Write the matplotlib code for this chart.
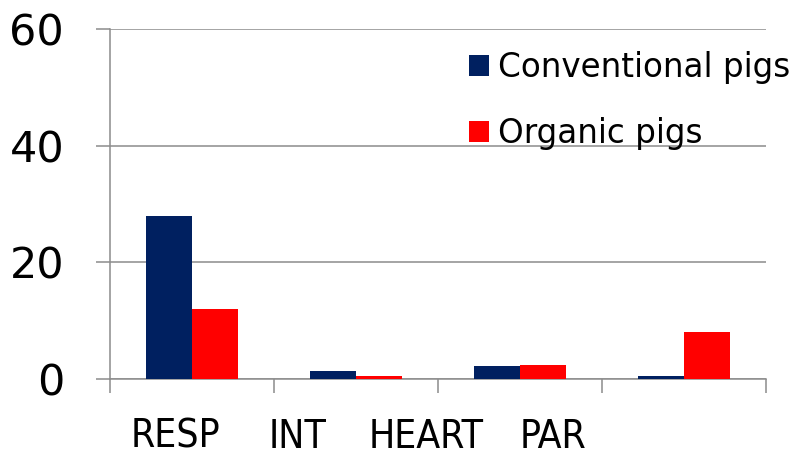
import matplotlib
matplotlib.use("Agg")
import matplotlib.pyplot as plt
import numpy as np

# Data
categories = ["RESP", "INT", "HEART", "PAR"]
conventional = [28, 1.3, 2.2, 0.6]
organic = [12, 0.5, 2.4, 8]
series_names = ["Conventional pigs", "Organic pigs"]
y_ticks = [0, 20, 40, 60]
label_positions = [-0.10, 0.646, 1.43, 2.20]

navy = "#002060"
red = "#FF0000"
grid_col = "#8c8c8c"

W, H = 802, 461
fig = plt.figure(figsize=(W / 100, H / 100), dpi=100)
ax = fig.add_axes([110 / W, (H - 379) / H, 656 / W, 350 / H])

x = np.arange(len(categories))
bw = 0.28
ax.bar(x - bw / 2, conventional, bw, color=navy, zorder=3, label=series_names[0])
ax.bar(x + bw / 2, organic, bw, color=red, zorder=3, label=series_names[1])

ax.set_xlim(-0.5, len(categories) - 0.5)
ax.set_ylim(0, 60)

# Horizontal gridlines
ax.set_yticks(y_ticks)
ax.yaxis.grid(True, color=grid_col, linewidth=1.1, zorder=0)
ax.set_axisbelow(True)
ax.tick_params(axis="y", length=10, width=1.1, color=grid_col, pad=23,
               labelsize=31, labelcolor="black")

# Category boundaries as minor ticks, labels as major ticks
ax.set_xticks(np.arange(len(categories) + 1) - 0.5, minor=True)
ax.set_xticks(label_positions)
ax.set_xticklabels(categories, fontstretch="condensed")
ax.tick_params(axis="x", which="minor", length=10, width=1.1, color=grid_col)
ax.tick_params(axis="x", which="major", length=0, pad=28, labelsize=28,
               labelcolor="black")

for s in ["top", "right"]:
    ax.spines[s].set_visible(False)
for s in ["left", "bottom"]:
    ax.spines[s].set_color(grid_col)
    ax.spines[s].set_linewidth(1.1)

leg = ax.legend(loc="upper left", bbox_to_anchor=(469 / W, 1 - 51 / H),
                bbox_transform=fig.transFigure, frameon=False,
                handlelength=0.61, handleheight=0.61,
                handletextpad=0.28, labelspacing=1.02, borderpad=0,
                borderaxespad=0, prop={"family": "DejaVu Sans", "size": 23.5})

fig.savefig("out.png", dpi=100)
